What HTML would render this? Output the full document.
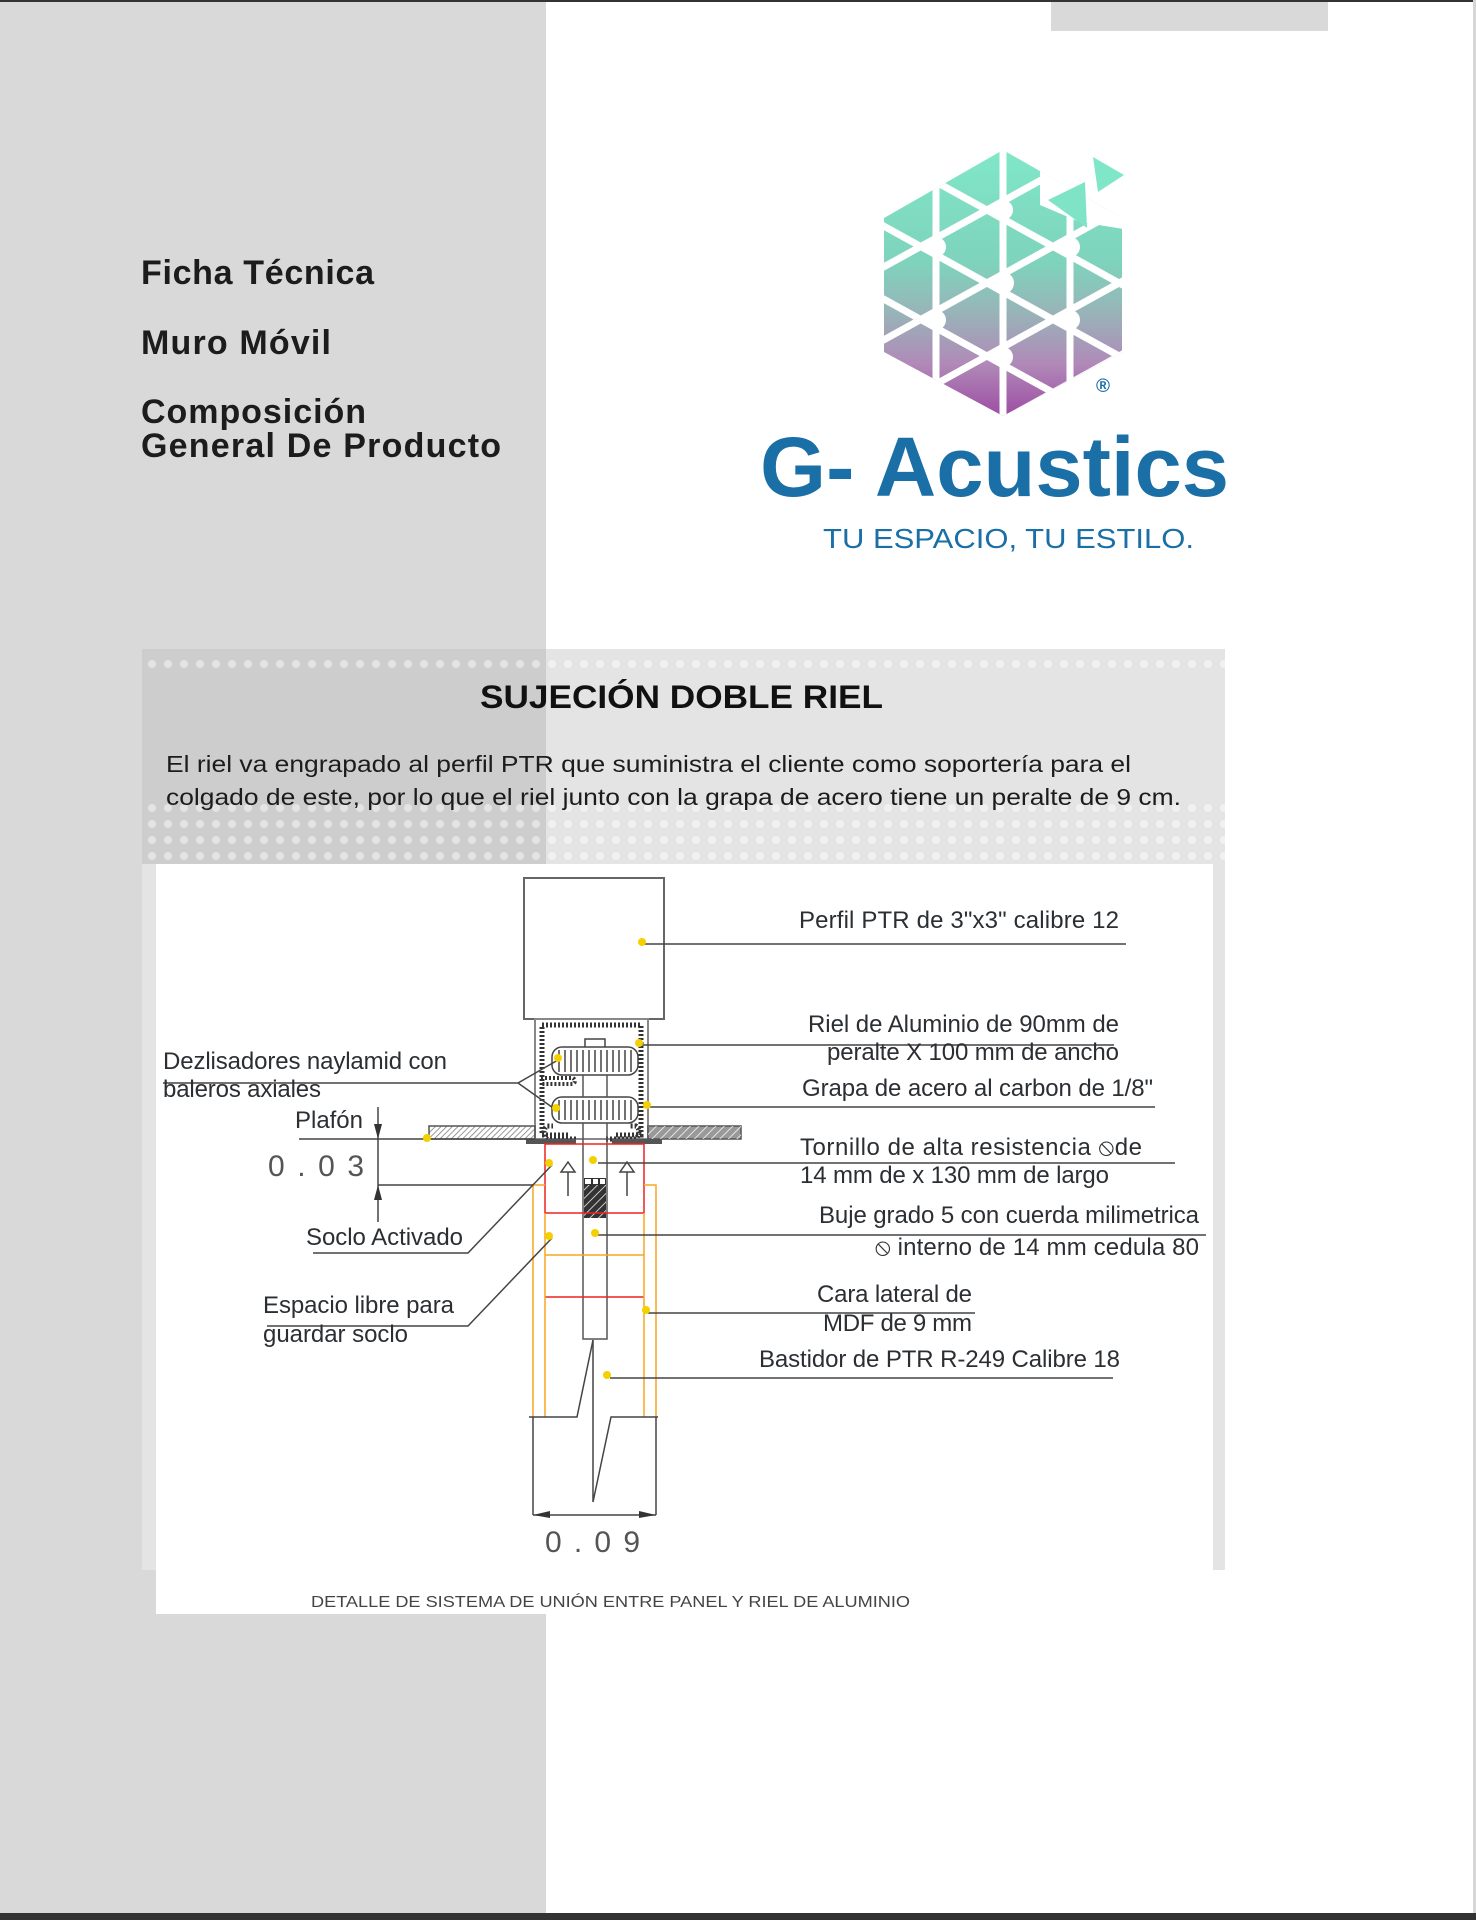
<!DOCTYPE html>
<html><head><meta charset="utf-8"><style>
html,body{margin:0;padding:0;background:#fff;}
svg{display:block;}
.t{font-family:"Liberation Sans",sans-serif;fill:#2b2f33;font-size:24px;}
</style></head><body>
<svg width="1476" height="1920" viewBox="0 0 1476 1920" xmlns="http://www.w3.org/2000/svg">
<defs>
<linearGradient id="lg" x1="0" y1="0" x2="0" y2="1">
<stop offset="0" stop-color="#80e8c8"/><stop offset="0.42" stop-color="#7ed3bc"/>
<stop offset="0.6" stop-color="#98b4b8"/><stop offset="0.78" stop-color="#b08ab8"/>
<stop offset="1" stop-color="#9a42a0"/></linearGradient>
<clipPath id="hex"><polygon points="1003,150 1122,218 1122,352 1003,416 884,352 884,218"/></clipPath>
<pattern id="dots" width="16" height="16" patternUnits="userSpaceOnUse"><circle cx="8" cy="8" r="4" fill="#fff" fill-opacity="0.45"/></pattern>
<pattern id="hatch" width="4" height="4" patternUnits="userSpaceOnUse" patternTransform="rotate(45)"><line x1="0" y1="0" x2="0" y2="4" stroke="#777" stroke-width="1.5"/></pattern>
<pattern id="hatch2" width="6" height="6" patternUnits="userSpaceOnUse" patternTransform="rotate(45)"><line x1="0" y1="0" x2="0" y2="6" stroke="#fff" stroke-width="1.5"/></pattern>
</defs>
<rect x="0" y="0" width="546" height="1920" fill="#d9d9d9"/>
<rect x="0" y="0" width="1476" height="2" fill="#333"/>
<rect x="1051" y="2" width="277" height="29" fill="#d9d9d9"/>
<rect x="1473" y="0" width="3" height="1920" fill="#d6d6d6"/>
<rect x="0" y="1913" width="1476" height="7" fill="#333"/>

<g font-family="Liberation Sans,sans-serif" font-weight="bold" font-size="34" fill="#1c1c1c" lengthAdjust="spacingAndGlyphs">
<text x="141" y="284" textLength="233">Ficha Técnica</text>
<text x="141" y="354" textLength="190">Muro Móvil</text>
<text x="141" y="423" textLength="225">Composición</text>
<text x="141" y="457" textLength="360">General De Producto</text>
</g>

<g clip-path="url(#hex)">
<rect x="880" y="145" width="250" height="280" fill="url(#lg)"/>
<g stroke="#fff" stroke-width="7">
<line x1="936" y1="140" x2="936" y2="430"/><line x1="1003" y1="140" x2="1003" y2="430"/><line x1="1070" y1="140" x2="1070" y2="430"/>
<line x1="880" y1="5" x2="1130" y2="143"/><line x1="880" y1="78" x2="1130" y2="216"/><line x1="880" y1="151" x2="1130" y2="289"/><line x1="880" y1="224" x2="1130" y2="362"/><line x1="880" y1="297" x2="1130" y2="435"/><line x1="880" y1="370" x2="1130" y2="508"/>
<line x1="880" y1="561" x2="1130" y2="423"/><line x1="880" y1="488" x2="1130" y2="350"/><line x1="880" y1="415" x2="1130" y2="277"/><line x1="880" y1="342" x2="1130" y2="204"/><line x1="880" y1="269" x2="1130" y2="131"/><line x1="880" y1="196" x2="1130" y2="58"/>
</g>
<g fill="#fff"><circle cx="1003" cy="283" r="11"/><circle cx="936" cy="247" r="10"/><circle cx="1070" cy="247" r="10"/><circle cx="936" cy="320" r="10"/><circle cx="1070" cy="320" r="10"/><circle cx="1003" cy="210" r="10"/><circle cx="1003" cy="357" r="10"/></g>
<polygon points="1040,150 1130,150 1130,230 1080,222 1040,205" fill="#fff"/>
</g>
<polygon points="1048,200 1085,182 1087,228" fill="#7fe3c6"/>
<polygon points="1093,157 1124,175 1098,192" fill="#80e6c8"/>
<text x="1096" y="392" font-family="Liberation Sans,sans-serif" font-size="19" font-weight="bold" fill="#1a6fa6">®</text>
<text x="760" y="496" font-family="Liberation Sans,sans-serif" font-weight="bold" font-size="84" fill="#1a6fa6" textLength="469" lengthAdjust="spacingAndGlyphs">G- Acustics</text>
<text x="823" y="548" font-family="Liberation Sans,sans-serif" font-size="28" fill="#1a6fa6" textLength="371" lengthAdjust="spacingAndGlyphs">TU ESPACIO, TU ESTILO.</text>

<rect x="142" y="649" width="1083" height="921" fill="#e4e4e4"/>
<rect x="142" y="649" width="404" height="215" fill="#cdcdcd"/>
<rect x="142" y="800" width="1083" height="64" fill="url(#dots)"/>
<rect x="142" y="655" width="1083" height="20" fill="url(#dots)"/>
<text x="480" y="708" font-family="Liberation Sans,sans-serif" font-weight="bold" font-size="32" fill="#111" textLength="403" lengthAdjust="spacingAndGlyphs">SUJECIÓN DOBLE RIEL</text>
<g font-family="Liberation Sans,sans-serif" font-size="23" fill="#1c1c1c">
<text x="166" y="772" textLength="965" lengthAdjust="spacingAndGlyphs">El riel va engrapado al perfil PTR que suministra el cliente como soportería para el</text>
<text x="166" y="805" textLength="1015" lengthAdjust="spacingAndGlyphs">colgado de este, por lo que el riel junto con la grapa de acero tiene un peralte de 9 cm.</text>
</g>
<rect x="156" y="864" width="1057" height="750" fill="#fff"/>
<text x="311" y="1607" font-family="Liberation Sans,sans-serif" font-size="16" fill="#444" textLength="599" lengthAdjust="spacingAndGlyphs">DETALLE DE SISTEMA DE UNIÓN ENTRE PANEL Y RIEL DE ALUMINIO</text>

<rect x="524" y="878" width="140" height="141" fill="none" stroke="#666" stroke-width="2"/>
<rect x="535" y="1019" width="113" height="120" fill="none" stroke="#888" stroke-width="2"/>
<rect x="429" y="1126" width="106" height="13" fill="url(#hatch)" stroke="#555" stroke-width="1.5"/>
<rect x="648" y="1126" width="93" height="13" fill="#999" stroke="#555" stroke-width="1.5"/>
<rect x="648" y="1126" width="93" height="13" fill="url(#hatch2)"/>
<path d="M576,1139 L547,1139 Q541,1131 547,1126 L553,1126 M568,1135 L542,1135 L542,1025 L641,1025 L641,1135 L615,1135 M606,1139 L636,1139 Q642,1131 636,1126 L630,1126" fill="none" stroke="#333" stroke-width="5" stroke-dasharray="2 2"/>
<path d="M541,1078 L573,1078 Q577,1081 573,1084 L541,1084" fill="none" stroke="#333" stroke-width="4" stroke-dasharray="2 2"/>
<rect x="526" y="1139" width="50" height="5" fill="#555"/>
<rect x="612" y="1139" width="50" height="5" fill="#555"/>
<rect x="585" y="1039" width="20" height="9" fill="#fff" stroke="#444" stroke-width="1.5"/>
<g stroke="#444" stroke-width="1.5">
<rect x="552" y="1047" width="86" height="28" rx="10" fill="#fff"/>
<rect x="552" y="1097" width="86" height="26" rx="10" fill="#fff"/>
<path d="M559,1050V1072M565,1050V1072M571,1050V1072M577,1050V1072M583,1050V1072M589,1050V1072M595,1050V1072M601,1050V1072M607,1050V1072M613,1050V1072M619,1050V1072M625,1050V1072M631,1050V1072"/>
<path d="M559,1100V1120M565,1100V1120M571,1100V1120M577,1100V1120M583,1100V1120M589,1100V1120M595,1100V1120M601,1100V1120M607,1100V1120M613,1100V1120M619,1100V1120M625,1100V1120M631,1100V1120"/>
</g>
<g stroke="#555" stroke-width="1.5" fill="none">
<line x1="583" y1="1075" x2="583" y2="1097"/><line x1="607" y1="1075" x2="607" y2="1097"/>
<path d="M583,1123 V1339 H607 V1123"/>
</g>
<rect x="584" y="1178" width="22" height="40" fill="#333"/>
<rect x="584" y="1185" width="22" height="33" fill="url(#hatch2)"/>
<rect x="585" y="1179" width="6" height="5" fill="#fff"/><rect x="593" y="1179" width="5" height="5" fill="#fff"/><rect x="600" y="1179" width="5" height="5" fill="#fff"/>
<rect x="545" y="1144" width="99" height="69" fill="none" stroke="#ee2222" stroke-width="1.5"/>
<line x1="545" y1="1297" x2="644" y2="1297" stroke="#ee2222" stroke-width="1.5"/>
<g stroke="#f5a623" stroke-width="1.5" fill="none">
<path d="M545,1185 H533 V1417"/><path d="M644,1185 H656 V1417"/>
<line x1="545" y1="1213" x2="545" y2="1417"/><line x1="644" y1="1213" x2="644" y2="1417"/>
<line x1="545" y1="1255" x2="644" y2="1255"/>
</g>
<g stroke="#444" stroke-width="1.5" fill="#fff">
<line x1="568" y1="1172" x2="568" y2="1196"/><polygon points="568,1162 561,1172 575,1172"/>
<line x1="627" y1="1172" x2="627" y2="1196"/><polygon points="627,1162 620,1172 634,1172"/>
</g>
<g stroke="#444" stroke-width="1.5" fill="none">
<path d="M529,1417 H577 L593,1340"/>
<path d="M593,1340 V1502 L611,1417 H658"/>
<path d="M533,1417 V1515"/><path d="M656,1417 V1515"/>
<line x1="533" y1="1515" x2="656" y2="1515"/>
</g>
<polygon points="533,1515 550,1511 550,1518" fill="#333"/>
<polygon points="656,1515 639,1511 639,1518" fill="#333"/>
<text x="545" y="1552" font-family="Liberation Sans,sans-serif" font-size="30" fill="#555" textLength="95" lengthAdjust="spacing">0.09</text>
<g stroke="#444" stroke-width="1.5" fill="none">
<line x1="378" y1="1107" x2="378" y2="1222"/>
<line x1="299" y1="1139" x2="535" y2="1139"/>
<line x1="378" y1="1185" x2="533" y2="1185"/>
</g>
<polygon points="378,1139 374,1124 382,1124" fill="#333"/>
<polygon points="378,1185 374,1200 382,1200" fill="#333"/>
<text x="268" y="1176" font-family="Liberation Sans,sans-serif" font-size="30" fill="#555" textLength="96" lengthAdjust="spacing">0.03</text>
<g stroke="#444" stroke-width="1.5" fill="none">
<path d="M163,1083 H518 L558,1060 M518,1083 L556,1110"/>
<path d="M313,1253 H468 L552,1165"/>
<path d="M267,1326 H468 L552,1238"/>
</g>
<g class="t" lengthAdjust="spacingAndGlyphs">
<text x="163" y="1069" textLength="284">Dezlisadores naylamid con</text>
<text x="163" y="1097" textLength="158">baleros axiales</text>
<text x="295" y="1128" textLength="68">Plafón</text>
<text x="306" y="1245" textLength="157">Soclo Activado</text>
<text x="263" y="1313" textLength="191">Espacio libre para</text>
<text x="263" y="1342" textLength="145">guardar soclo</text>
</g>
<g stroke="#444" stroke-width="1.5">
<line x1="643" y1="944" x2="1126" y2="944"/>
<line x1="640" y1="1045" x2="1114" y2="1045"/>
<line x1="647" y1="1107" x2="1155" y2="1107"/>
<line x1="598" y1="1163" x2="1175" y2="1163"/>
<line x1="598" y1="1235" x2="1206" y2="1235"/>
<line x1="648" y1="1313" x2="975" y2="1313"/>
<line x1="610" y1="1378" x2="1113" y2="1378"/>
</g>
<g class="t" lengthAdjust="spacingAndGlyphs">
<text x="799" y="928" textLength="320">Perfil PTR  de 3"x3" calibre 12</text>
<text x="808" y="1032" textLength="311">Riel de Aluminio de 90mm de</text>
<text x="827" y="1060" textLength="292">peralte X 100 mm de ancho</text>
<text x="802" y="1096" textLength="351">Grapa de acero al carbon de 1/8"</text>
<text x="800" y="1155" textLength="342">Tornillo de alta resistencia ⦸de</text>
<text x="800" y="1183" textLength="309">14 mm de x 130 mm de largo</text>
<text x="819" y="1223" textLength="380">Buje grado 5 con cuerda milimetrica</text>
<text x="875" y="1255" textLength="324">⦸ interno de 14 mm cedula 80</text>
<text x="817" y="1302" textLength="155">Cara lateral de</text>
<text x="823" y="1331" textLength="149">MDF de 9 mm</text>
<text x="759" y="1367" textLength="361">Bastidor de PTR R-249 Calibre 18</text>
</g>
<g fill="#f5d000">
<circle cx="642" cy="942" r="4"/><circle cx="639" cy="1043" r="4"/><circle cx="647" cy="1105" r="4"/>
<circle cx="558" cy="1058" r="4"/><circle cx="556" cy="1108" r="4"/><circle cx="427" cy="1138" r="4"/>
<circle cx="549" cy="1163" r="4"/><circle cx="593" cy="1160" r="4"/><circle cx="549" cy="1236" r="4"/>
<circle cx="595" cy="1233" r="4"/><circle cx="646" cy="1310" r="4"/><circle cx="607" cy="1375" r="4"/>
</g>
</svg>
</body></html>
